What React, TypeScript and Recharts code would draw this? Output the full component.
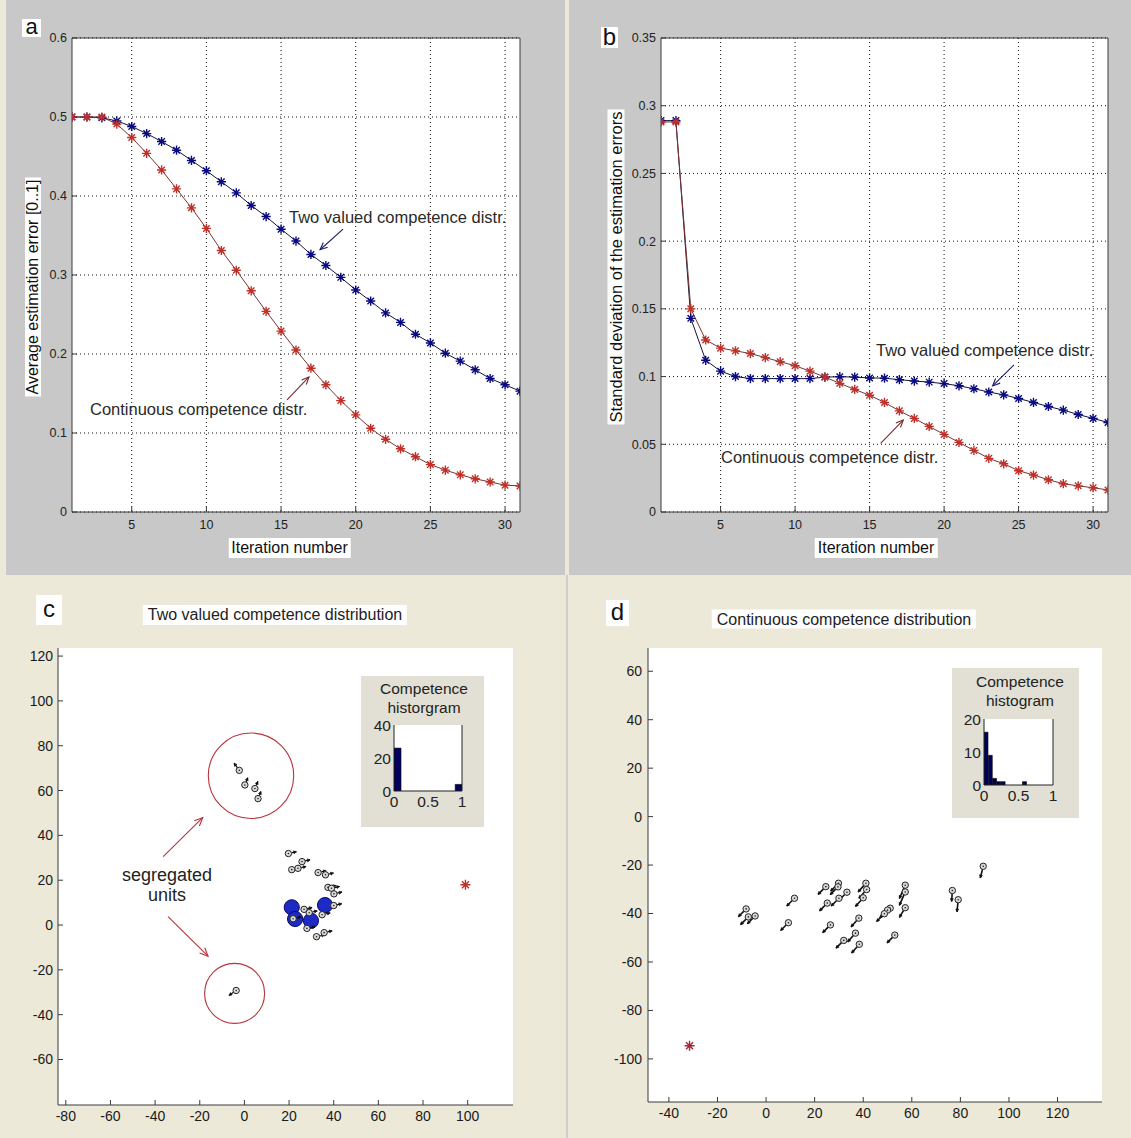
import React from 'react';
import {
  LineChart, Line, XAxis, YAxis, CartesianGrid, ScatterChart, Scatter,
  ReferenceLine, ReferenceDot, BarChart, Bar,
} from 'recharts';

// ---------- DATA ----------
const iterations = [1, 2, 3, 4, 5, 6, 7, 8, 9, 10, 11, 12, 13, 14, 15, 16, 17, 18, 19, 20, 21, 22, 23, 24, 25, 26, 27, 28, 29, 30, 31];

const avgErrTwoValued = [0.5, 0.5, 0.499, 0.495, 0.488, 0.479, 0.469, 0.458, 0.445, 0.432, 0.418, 0.404, 0.388, 0.374, 0.358, 0.343, 0.326, 0.312, 0.297, 0.281, 0.267, 0.252, 0.24, 0.225, 0.214, 0.201, 0.191, 0.18, 0.169, 0.161, 0.153];
const avgErrContinuous = [0.5, 0.5, 0.5, 0.491, 0.474, 0.454, 0.433, 0.409, 0.385, 0.359, 0.331, 0.306, 0.28, 0.254, 0.229, 0.205, 0.182, 0.161, 0.141, 0.123, 0.106, 0.092, 0.08, 0.07, 0.06, 0.053, 0.047, 0.042, 0.038, 0.034, 0.033];

const stdTwoValued = [0.289, 0.289, 0.143, 0.112, 0.104, 0.1, 0.0985, 0.0985, 0.0985, 0.0985, 0.0985, 0.0996, 0.0999, 0.0996, 0.099, 0.0988, 0.0977, 0.0967, 0.0959, 0.0948, 0.0932, 0.091, 0.0886, 0.0865, 0.0838, 0.0809, 0.0779, 0.0752, 0.072, 0.0691, 0.0661];
const stdContinuous = [0.288, 0.288, 0.15, 0.127, 0.121, 0.119, 0.117, 0.114, 0.111, 0.108, 0.104, 0.0996, 0.095, 0.0905, 0.0862, 0.0809, 0.0747, 0.0691, 0.0632, 0.0573, 0.0514, 0.0455, 0.0396, 0.0356, 0.0305, 0.0273, 0.0238, 0.0209, 0.0193, 0.0179, 0.0163];

const iterTicks = [5, 10, 15, 20, 25, 30];
const avgErrTicks = [0, 0.1, 0.2, 0.3, 0.4, 0.5, 0.6];
const stdTicks = [0, 0.05, 0.1, 0.15, 0.2, 0.25, 0.3, 0.35];

// Panel c: two valued competence distribution (unit positions + movement vectors)
const twoUnitX = [19.7, 25.8, 21.2, 24.0, 33.0, 36.3, 37.4, 39.0, 40.1, 40.0, 26.7, 29.0, 34.8, 21.8, 28.0, 32.3, 35.7, -2.3, 0.2, 4.7, 6.1, -3.7];
const twoUnitY = [31.9, 28.3, 24.7, 25.3, 23.4, 22.4, 16.8, 16.4, 13.9, 8.7, 7.0, 5.5, 4.6, 2.8, -1.5, -5.2, -3.4, 69.0, 62.5, 60.9, 56.4, -29.2];
const twoUnitU = [3.6, 3.6, 3.6, 3.6, 3.6, 3.6, 3.6, 3.6, 3.6, 3.6, 3.6, 3.6, 3.6, 3.6, 3.6, 3.6, 3.6, -2.3, 1.3, 1.3, 1.3, -3.2];
const twoUnitV = [0.8, 0.8, 0.8, 0.8, 0.8, 0.8, 0.8, 0.8, 0.8, 0.8, 0.8, 0.8, 0.8, 0.8, 0.8, 0.8, 0.8, 3.2, 3.2, 3.2, 3.2, -2.2];
const twoExpertX = [21.2, 22.7, 29.8, 36.1];
const twoExpertY = [7.9, 2.7, 1.9, 8.9];
const twoLeaderX = [99];
const twoLeaderY = [18];
const cXTicks = [-80, -60, -40, -20, 0, 20, 40, 60, 80, 100];
const cYTicks = [-60, -40, -20, 0, 20, 40, 60, 80, 100, 120];

// Panel d: continuous competence distribution
const contUnitX = [-8.2, -7.3, -4.5, 11.7, 9.2, 24.6, 29.8, 29.6, 33.3, 30.0, 25.2, 26.5, 41.1, 41.4, 40.0, 38.2, 36.8, 38.4, 32.0, 51.1, 50.0, 48.7, 57.3, 57.3, 57.3, 53.0, 76.7, 79.1, 89.4];
const contUnitY = [-38.1, -41.4, -41.0, -33.7, -43.8, -28.9, -27.5, -29.0, -31.2, -33.7, -35.7, -44.7, -27.5, -30.1, -33.5, -41.9, -48.1, -52.7, -51.1, -37.8, -38.6, -40.1, -28.3, -31.1, -37.6, -48.9, -30.5, -34.3, -20.5];
const contUnitU = [-3.2, -3.2, -3.2, -3.2, -3.2, -3.2, -3.2, -3.2, -3.2, -3.2, -3.2, -3.2, -3.2, -3.2, -3.2, -3.2, -3.2, -3.2, -3.2, -3.2, -3.2, -3.2, -2.4, -2.4, -2.4, -3.2, -0.3, -0.5, -1.2];
const contUnitV = [-3.2, -3.2, -3.2, -3.2, -3.2, -3.2, -3.2, -3.2, -3.2, -3.2, -3.2, -3.2, -3.6, -3.6, -3.6, -3.6, -3.6, -3.6, -3.2, -3.2, -3.2, -3.2, -5.5, -5.5, -4.0, -3.2, -4.5, -5.0, -4.8];
const contLeaderX = [-31.5];
const contLeaderY = [-94.6];
const dXTicks = [-40, -20, 0, 20, 40, 60, 80, 100, 120];
const dYTicks = [-100, -80, -60, -40, -20, 0, 20, 40, 60];

// Competence histograms
const histTwoBins = [0.05, 0.15, 0.25, 0.35, 0.45, 0.55, 0.65, 0.75, 0.85, 0.95];
const histTwoCounts = [26, 0, 0, 0, 0, 0, 0, 0, 0, 4];
const histContBins = [0.031, 0.093, 0.155, 0.217, 0.279, 0.341, 0.403, 0.465, 0.527, 0.589];
const histContCounts = [16, 9, 2, 1, 1, 0, 0, 0, 0, 1];
const histXTicks = [0, 0.5, 1];

// ---------- derived tables ----------
const avgRows = iterations.map((it, i) => ({ x: it, two: avgErrTwoValued[i], cont: avgErrContinuous[i] }));
const stdRows = iterations.map((it, i) => ({ x: it, two: stdTwoValued[i], cont: stdContinuous[i] }));
const twoUnits = twoUnitX.map((x, i) => ({ x, y: twoUnitY[i], u: twoUnitU[i], v: twoUnitV[i] }));
const twoExperts = twoExpertX.map((x, i) => ({ x, y: twoExpertY[i] }));
const twoLeader = twoLeaderX.map((x, i) => ({ x, y: twoLeaderY[i] }));
const contUnits = contUnitX.map((x, i) => ({ x, y: contUnitY[i], u: contUnitU[i], v: contUnitV[i] }));
const contLeader = contLeaderX.map((x, i) => ({ x, y: contLeaderY[i] }));
const histTwo = histTwoBins.map((x, i) => ({ x, count: histTwoCounts[i] }));
const histCont = histContBins.map((x, i) => ({ x, count: histContCounts[i] }));

// ---------- styles ----------
const FONT = '"Liberation Sans", Arial, Helvetica, sans-serif';
const BLUE = '#0a0a80';
const RED = '#c0302a';
const AXIS = '#3a3a3a';
const GRAY_BG = '#c8c8c8';
const BEIGE = '#ece9d8';
const ANN = '#b8343c';

function asteriskDot(color: string, r: number) {
  return (props: any) => {
    const { cx, cy, index } = props;
    if (typeof cx !== 'number' || typeof cy !== 'number') return <g key={`e${index}`} />;
    const d = r * 0.7071;
    return (
      <path
        key={`s${index}`}
        d={`M${cx - r},${cy}H${cx + r}M${cx},${cy - r}V${cy + r}M${cx - d},${cy - d}L${cx + d},${cy + d}M${cx - d},${cy + d}L${cx + d},${cy - d}`}
        stroke={color}
        strokeWidth={1.4}
        fill="none"
      />
    );
  };
}

function arrowShape(color: string, head: number) {
  return (props: any) => {
    const { x1, y1, x2, y2 } = props;
    if ([x1, y1, x2, y2].some((v) => typeof v !== 'number')) return <g />;
    const a = Math.atan2(y2 - y1, x2 - x1);
    const s = 0.42;
    const ax = x2 - head * Math.cos(a - s);
    const ay = y2 - head * Math.sin(a - s);
    const bx = x2 - head * Math.cos(a + s);
    const by = y2 - head * Math.sin(a + s);
    return (
      <g>
        <line x1={x1} y1={y1} x2={x2} y2={y2} stroke={color} strokeWidth={1.1} />
        <path d={`M${ax},${ay}L${x2},${y2}L${bx},${by}`} stroke={color} strokeWidth={1.1} fill="none" />
      </g>
    );
  };
}

function unitShape(pxPerUnit: number, width: number) {
  return (props: any) => {
    const { cx, cy, payload } = props;
    if (typeof cx !== 'number' || typeof cy !== 'number') return <g />;
    const ex = cx + payload.u * pxPerUnit;
    const ey = cy - payload.v * pxPerUnit;
    const a = Math.atan2(ey - cy, ex - cx);
    const sx = cx + 3.2 * Math.cos(a);
    const sy = cy + 3.2 * Math.sin(a);
    const h = 3.2;
    const hx1 = ex - h * Math.cos(a - 0.5);
    const hy1 = ey - h * Math.sin(a - 0.5);
    const hx2 = ex - h * Math.cos(a + 0.5);
    const hy2 = ey - h * Math.sin(a + 0.5);
    return (
      <g>
        <line x1={sx} y1={sy} x2={ex} y2={ey} stroke="#111" strokeWidth={width} />
        <path d={`M${hx1},${hy1}L${ex},${ey}L${hx2},${hy2}Z`} fill="#111" stroke="#111" strokeWidth={0.6} />
        <circle cx={cx} cy={cy} r={3.2} fill="#d8d8d8" stroke="#222" strokeWidth={1} />
        <circle cx={cx} cy={cy} r={0.8} fill="#222" />
      </g>
    );
  };
}

const expertShape = (props: any) => {
  const { cx, cy } = props;
  if (typeof cx !== 'number' || typeof cy !== 'number') return <g />;
  return <circle cx={cx} cy={cy} r={7.6} fill="#1d2bc4" stroke="#0a0a6a" strokeWidth={1} />;
};

const tickStyleAB = { fontSize: 12.5, fill: '#222', fontFamily: FONT };
const tickStyleCD = { fontSize: 14, fill: '#1a1a1a', fontFamily: FONT };
const tickStyleHist = { fontSize: 15.5, fill: '#222', fontFamily: FONT };

// ---------- sub components ----------
function LinePanel(props: {
  rows: any[]; yDomain: [number, number]; yTicks: number[]; width: number; height: number;
  margin: any; yWidth: number; annotations: { from: [number, number]; to: [number, number]; color: string }[];
}) {
  const { rows, yDomain, yTicks, width, height, margin, yWidth, annotations } = props;
  return (
    <LineChart width={width} height={height} data={rows} margin={margin}>
      <CartesianGrid fill="#ffffff" stroke="#111" strokeDasharray="1 3" horizontalValues={yTicks} verticalValues={iterTicks} />
      <XAxis dataKey="x" type="number" domain={[1, 31]} ticks={iterTicks} allowDataOverflow
        tickSize={-5} tickMargin={13} height={30} axisLine={{ stroke: AXIS }} tickLine={{ stroke: AXIS }} tick={tickStyleAB} />
      <XAxis xAxisId="top" orientation="top" type="number" domain={[1, 31]} ticks={iterTicks} allowDataOverflow
        tickSize={-5} height={1} tick={false} axisLine={{ stroke: AXIS }} tickLine={{ stroke: AXIS }} />
      <YAxis type="number" domain={yDomain} ticks={yTicks} allowDataOverflow width={yWidth}
        tickSize={-5} tickMargin={10} axisLine={{ stroke: AXIS }} tickLine={{ stroke: AXIS }} tick={tickStyleAB} />
      <YAxis yAxisId="r" orientation="right" type="number" domain={yDomain} ticks={yTicks} allowDataOverflow width={1}
        tickSize={-5} tick={false} axisLine={{ stroke: AXIS }} tickLine={{ stroke: AXIS }} />
      <Line type="linear" dataKey="two" stroke="#141436" strokeWidth={1} dot={asteriskDot(BLUE, 4.6)} activeDot={false} isAnimationActive={false} />
      <Line type="linear" dataKey="cont" stroke="#7a3434" strokeWidth={1} dot={asteriskDot(RED, 4.6)} activeDot={false} isAnimationActive={false} />
      {annotations.map((a, i) => (
        <ReferenceLine key={i} segment={[{ x: a.from[0], y: a.from[1] }, { x: a.to[0], y: a.to[1] }]}
          stroke={a.color} shape={arrowShape(a.color, 8)} ifOverflow="visible" />
      ))}
    </LineChart>
  );
}

function Histogram(props: { data: any[]; yMax: number; yTicks: number[]; width: number; height: number; margin: any }) {
  const { data, yMax, yTicks, width, height, margin } = props;
  return (
    <BarChart width={width} height={height} data={data} margin={margin} barCategoryGap={0} barGap={0}>
      <CartesianGrid horizontal={false} vertical={false} fill="#ffffff" />
      <XAxis dataKey="x" type="number" domain={[0, 1]} ticks={histXTicks} allowDataOverflow
        tickSize={0} tickMargin={5} height={20} axisLine={{ stroke: '#222' }} tick={tickStyleHist} interval={0} />
      <YAxis type="number" domain={[0, yMax]} ticks={yTicks} allowDataOverflow width={22}
        tickSize={0} tickMargin={3} axisLine={{ stroke: '#222' }} tick={tickStyleHist} interval={0} />
      <YAxis yAxisId="r" orientation="right" type="number" domain={[0, yMax]} width={1}
        tick={false} tickLine={false} axisLine={{ stroke: '#222' }} />
      <Bar dataKey="count" fill="#00005e" stroke="#000" strokeWidth={0.6} isAnimationActive={false} />
    </BarChart>
  );
}

const absText = (style: React.CSSProperties, text: string, key?: string) => (
  <div key={key} style={{ position: 'absolute', whiteSpace: 'nowrap', fontFamily: FONT, color: '#2a2a2a', ...style }}>{text}</div>
);

const letterBox = (left: number, top: number, w: number, h: number, size: number, txt: string) => (
  <div style={{ position: 'absolute', left, top, width: w, height: h, background: '#fff', fontFamily: FONT,
    fontSize: size, lineHeight: `${h - 2}px`, textAlign: 'center', color: '#111' }}>{txt}</div>
);

export default function App() {
  return (
    <div style={{ position: 'absolute', left: 0, top: 0, width: 1131, height: 1138, background: BEIGE, overflow: 'hidden', fontFamily: FONT }}>
      {/* panel backgrounds */}
      <div style={{ position: 'absolute', left: 6, top: 0, width: 559, height: 575, background: GRAY_BG }} />
      <div style={{ position: 'absolute', left: 569, top: 0, width: 562, height: 575, background: GRAY_BG }} />
      <div style={{ position: 'absolute', left: 566, top: 575, width: 2, height: 563, background: '#cfcfc8' }} />

      {/* Panel a */}
      <div style={{ position: 'absolute', left: 0, top: 0 }}>
        <LinePanel rows={avgRows} yDomain={[0, 0.6]} yTicks={avgErrTicks} width={566} height={572}
          margin={{ top: 37, right: 45, bottom: 30, left: 32 }} yWidth={40}
          annotations={[
            { from: [19.15, 0.358], to: [17.61, 0.332], color: '#1a1a6a' },
            { from: [15.4, 0.1418], to: [16.87, 0.1709], color: '#7a2a2a' },
          ]} />
      </div>
      {/* Panel b */}
      <div style={{ position: 'absolute', left: 566, top: 0 }}>
        <LinePanel rows={stdRows} yDomain={[0, 0.35]} yTicks={stdTicks} width={565} height={572}
          margin={{ top: 37, right: 22, bottom: 30, left: 50 }} yWidth={45}
          annotations={[
            { from: [24.69, 0.1086], to: [23.26, 0.0931], color: '#1a1a6a' },
            { from: [15.74, 0.0507], to: [17.26, 0.0679], color: '#7a2a2a' },
          ]} />
      </div>

      {/* Panel c */}
      <div style={{ position: 'absolute', left: 0, top: 575 }}>
        <ScatterChart width={566} height={563} margin={{ top: 73, right: 53, bottom: 8, left: 18 }}>
          <CartesianGrid horizontal={false} vertical={false} fill="#ffffff" />
          <XAxis dataKey="x" type="number" domain={[-83.5, 120.3]} ticks={cXTicks} allowDataOverflow interval={0}
            tickSize={-5} tickMargin={11} height={25} axisLine={{ stroke: AXIS }} tickLine={{ stroke: AXIS }} tick={tickStyleCD} />
          <YAxis dataKey="y" type="number" domain={[-80.3, 123.6]} ticks={cYTicks} allowDataOverflow interval={0} width={40}
            tickSize={-5} tickMargin={10} axisLine={{ stroke: AXIS }} tickLine={{ stroke: AXIS }} tick={tickStyleCD} />
          <ReferenceDot x={2.95} y={66.6} r={42.7} fill="none" stroke={ANN} strokeWidth={1.1} ifOverflow="visible" />
          <ReferenceDot x={-4.4} y={-30.5} r={30} fill="none" stroke={ANN} strokeWidth={1.1} ifOverflow="visible" />
          <ReferenceLine segment={[{ x: -36.4, y: 30.5 }, { x: -18.7, y: 47.9 }]} stroke={ANN} shape={arrowShape(ANN, 9)} ifOverflow="visible" />
          <ReferenceLine segment={[{ x: -34.2, y: 3.7 }, { x: -16.3, y: -13.9 }]} stroke={ANN} shape={arrowShape(ANN, 9)} ifOverflow="visible" />
          <Scatter data={twoExperts} shape={expertShape} isAnimationActive={false} />
          <Scatter data={twoUnits} shape={unitShape(2.24, 1.2)} isAnimationActive={false} />
          <Scatter data={twoLeader} shape={asteriskDot(RED, 5)} isAnimationActive={false} />
        </ScatterChart>
      </div>

      {/* Panel d */}
      <div style={{ position: 'absolute', left: 566, top: 575 }}>
        <ScatterChart width={565} height={563} margin={{ top: 73, right: 29, bottom: 11, left: 37 }}>
          <CartesianGrid horizontal={false} vertical={false} fill="#ffffff" />
          <XAxis dataKey="x" type="number" domain={[-48.6, 138.3]} ticks={dXTicks} allowDataOverflow interval={0}
            tickSize={-5} tickMargin={11} height={25} axisLine={{ stroke: AXIS }} tickLine={{ stroke: AXIS }} tick={tickStyleCD} />
          <YAxis dataKey="y" type="number" domain={[-117.8, 69.6]} ticks={dYTicks} allowDataOverflow interval={0} width={45}
            tickSize={-5} tickMargin={11} axisLine={{ stroke: AXIS }} tickLine={{ stroke: AXIS }} tick={tickStyleCD} />
          <Scatter data={contUnits} shape={unitShape(2.43, 1.6)} isAnimationActive={false} />
          <Scatter data={contLeader} shape={asteriskDot('#a0283a', 5)} isAnimationActive={false} />
        </ScatterChart>
      </div>

      {/* Histogram insets */}
      <div style={{ position: 'absolute', left: 361, top: 676, width: 123, height: 151, background: '#e2e0d4' }}>
        <div style={{ position: 'absolute', left: 0, top: 3, width: 126, textAlign: 'center', fontSize: 15.5, lineHeight: '19px', color: '#222' }}>
          Competence<br />historgram
        </div>
        <div style={{ position: 'absolute', left: 0, top: 0 }}>
          <Histogram data={histTwo} yMax={40} yTicks={[0, 20, 40]} width={123} height={151}
            margin={{ top: 49, right: 21, bottom: 16, left: 11 }} />
        </div>
      </div>
      <div style={{ position: 'absolute', left: 952, top: 668, width: 127, height: 150, background: '#e2e0d4' }}>
        <div style={{ position: 'absolute', left: 0, top: 4, width: 136, textAlign: 'center', fontSize: 15.5, lineHeight: '19px', color: '#222' }}>
          Competence<br />histogram
        </div>
        <div style={{ position: 'absolute', left: 0, top: 0 }}>
          <Histogram data={histCont} yMax={20} yTicks={[0, 10, 20]} width={127} height={150}
            margin={{ top: 51, right: 25, bottom: 13, left: 10 }} />
        </div>
      </div>

      {/* panel letters */}
      {letterBox(22, 19, 19, 18, 22, 'a')}
      {letterBox(601, 27, 17, 21, 24, 'b')}
      {letterBox(36, 595, 26, 30, 24, 'c')}
      {letterBox(606, 600, 23, 26, 24, 'd')}

      {/* axis labels */}
      <div style={{ position: 'absolute', left: 289.5, top: 548, transform: 'translate(-50%,-50%)', background: '#fff', padding: '0 3px',
        fontSize: 16, lineHeight: '20px', whiteSpace: 'nowrap', color: '#111' }}>Iteration number</div>
      <div style={{ position: 'absolute', left: 876, top: 548, transform: 'translate(-50%,-50%)', background: '#fff', padding: '0 3px',
        fontSize: 16, lineHeight: '20px', whiteSpace: 'nowrap', color: '#111' }}>Iteration number</div>
      <div style={{ position: 'absolute', left: 33, top: 286.5, transform: 'translate(-50%,-50%) rotate(-90deg)', background: '#fff', padding: '0 2px',
        fontSize: 16, lineHeight: '16px', whiteSpace: 'nowrap', color: '#111' }}>Average estimation error [0..1]</div>
      <div style={{ position: 'absolute', left: 615.5, top: 267, transform: 'translate(-50%,-50%) rotate(-90deg)', background: '#fff', padding: '0 2px',
        fontSize: 16.5, lineHeight: '17px', whiteSpace: 'nowrap', color: '#111' }}>Standard deviation of the estimation errors</div>

      {/* titles c, d */}
      <div style={{ position: 'absolute', left: 275, top: 614.5, transform: 'translate(-50%,-50%)', background: '#fff', padding: '0 5px',
        fontSize: 16, lineHeight: '20px', whiteSpace: 'nowrap', color: '#222' }}>Two valued competence distribution</div>
      <div style={{ position: 'absolute', left: 844, top: 618.5, transform: 'translate(-50%,-50%)', background: '#fff', padding: '0 5px',
        fontSize: 16, lineHeight: '19px', whiteSpace: 'nowrap', color: '#222' }}>Continuous competence distribution</div>

      {/* curve annotations */}
      {absText({ left: 289, top: 207, fontSize: 16.5, lineHeight: '20px' }, 'Two valued competence distr.', 't1')}
      {absText({ left: 90, top: 399, fontSize: 16.5, lineHeight: '20px' }, 'Continuous competence distr.', 't2')}
      {absText({ left: 876, top: 340, fontSize: 16.5, lineHeight: '20px' }, 'Two valued competence distr.', 't3')}
      {absText({ left: 721, top: 447, fontSize: 16.5, lineHeight: '20px' }, 'Continuous competence distr.', 't4')}

      {/* segregated units label */}
      <div style={{ position: 'absolute', left: 167, top: 885, transform: 'translate(-50%,-50%)', textAlign: 'center',
        fontSize: 18, lineHeight: '20px', color: '#222', whiteSpace: 'nowrap' }}>segregated<br />units</div>
    </div>
  );
}
